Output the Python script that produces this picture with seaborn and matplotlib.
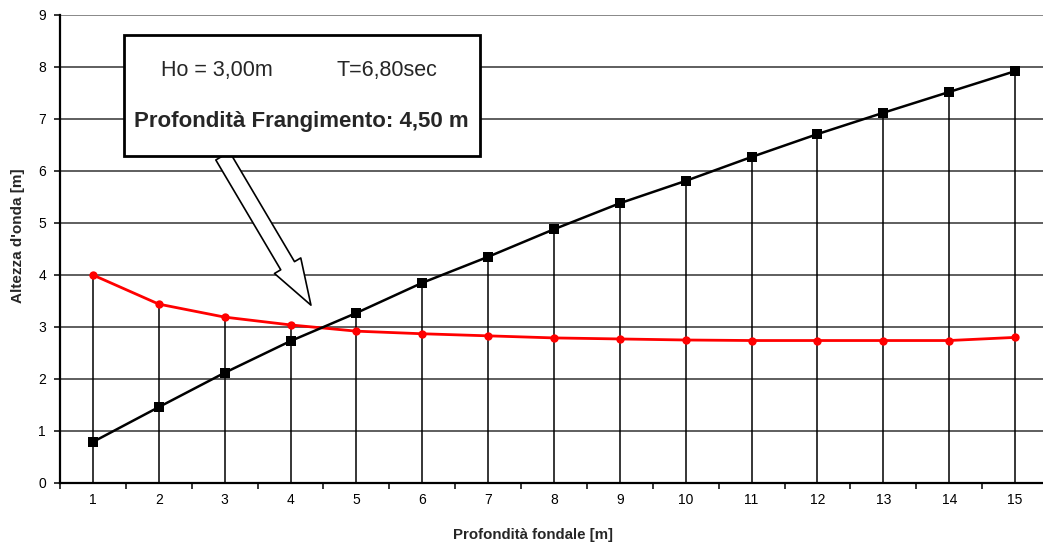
import matplotlib
matplotlib.use("Agg")
import matplotlib.pyplot as plt
import matplotlib.patches as mpatches
import seaborn as sns
import pandas as pd
import numpy as np

depth = list(range(1, 16))
wave_height = [0.79, 1.46, 2.12, 2.73, 3.27, 3.85, 4.35, 4.88, 5.38, 5.81, 6.27, 6.71, 7.12, 7.52, 7.92]
breaking_height = [4.00, 3.44, 3.19, 3.04, 2.92, 2.87, 2.83, 2.79, 2.77, 2.75, 2.74, 2.74, 2.74, 2.74, 2.80]
y_ticks = list(range(0, 10))
box_line1_left = "Ho = 3,00m"
box_line1_right = "T=6,80sec"
box_line2 = "Profondità Frangimento: 4,50 m"
xlabel = "Profondità fondale [m]"
ylabel = "Altezza d'onda [m]"

sns.set_style("white")
plt.rcParams['font.family'] = ['Liberation Sans', 'DejaVu Sans']

W, H = 1043, 545
fig = plt.figure(figsize=(W / 100, H / 100), dpi=100)
ax = fig.add_axes([60 / W, 62 / H, 988 / W, 468 / H])

df = pd.DataFrame({"x": depth, "black": wave_height, "red": breaking_height})

# drop lines
tops = np.maximum(df["black"], df["red"])
ax.vlines(df["x"], 0, tops, color="black", lw=1.1, zorder=2)

# horizontal grid
for yv in y_ticks[1:-1]:
    ax.axhline(yv, color="#333333", lw=1.1, zorder=1)
ax.axhline(9, color="#888888", lw=1.4, zorder=1)

sns.lineplot(data=df, x="x", y="red", ax=ax, color="#ff0000", lw=2.0,
             marker="o", markersize=6, markeredgewidth=0, zorder=4)
sns.lineplot(data=df, x="x", y="black", ax=ax, color="black", lw=1.8,
             marker="s", markersize=6.5, markeredgewidth=0, zorder=5)

ax.set_xlim(0.5, 15.5)
ax.set_ylim(0, 9)
ax.set_xticks(depth)
ax.set_xticks(np.arange(0.5, 15.6, 1), minor=True)
ax.set_yticks(y_ticks)
ax.tick_params(axis="x", which="major", length=0, labelsize=10, pad=7, colors="black")
ax.tick_params(axis="x", which="minor", length=4, width=1.1, direction="out", colors="black", bottom=True)
ax.tick_params(axis="y", which="major", length=4, width=1.1, direction="out", labelsize=10, pad=6, colors="black", left=True)
for s in ["top", "right"]:
    ax.spines[s].set_visible(False)
for s in ["left", "bottom"]:
    ax.spines[s].set_color("black")
    ax.spines[s].set_linewidth(1.6)

ax.set_xlabel(xlabel, fontsize=10.8, fontweight="bold")
ax.xaxis.set_label_coords(0.479, -0.096)
ax.set_ylabel(ylabel, fontsize=11, fontweight="bold")
ax.yaxis.set_label_coords(-0.0354, 0.528)

# annotation box
rect = mpatches.Rectangle((1.47, 6.29), 5.40, 2.325, facecolor="white",
                          edgecolor="black", lw=2, zorder=10)
ax.add_patch(rect)
ax.text(2.88, 7.93, box_line1_left, fontsize=15.5, ha="center", va="center", zorder=11)
ax.text(5.47, 7.93, box_line1_right, fontsize=15.5, ha="center", va="center", zorder=11)
ax.text(4.17, 6.96, box_line2, fontsize=16, fontweight="bold", ha="center", va="center", zorder=11)

arrow = mpatches.FancyArrowPatch((2.97, 6.29), (4.31, 3.42),
                                 arrowstyle="simple,head_width=22,head_length=33,tail_width=11.5",
                                 mutation_scale=1, facecolor="white", edgecolor="black",
                                 lw=1.2, zorder=9, shrinkA=0, shrinkB=0)
ax.add_patch(arrow)

fig.savefig("out.png", dpi=100)
